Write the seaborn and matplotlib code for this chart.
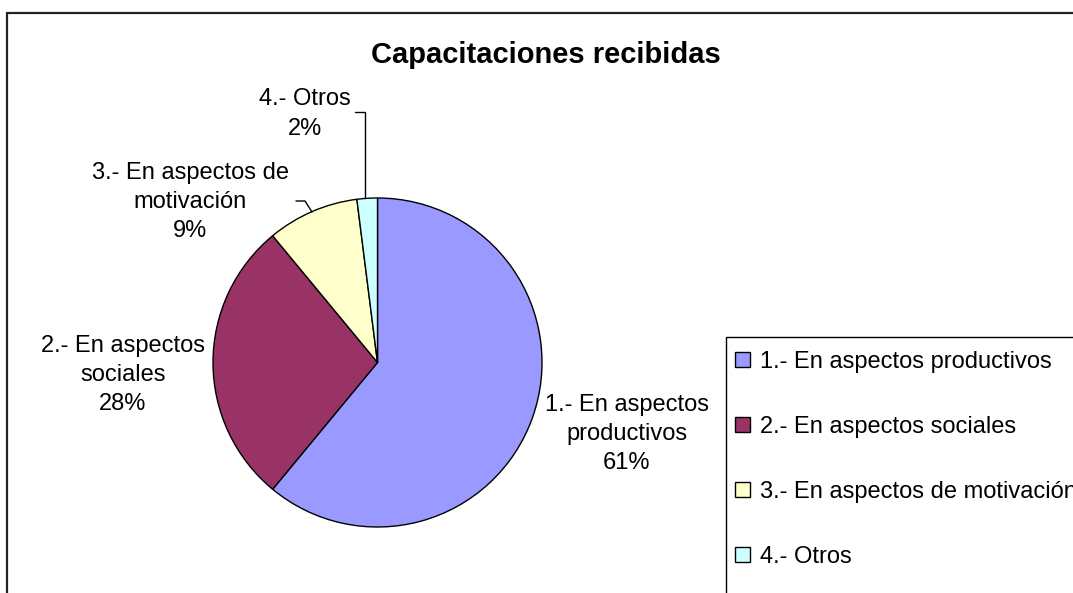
import numpy as np
import matplotlib
matplotlib.use("Agg")
import matplotlib.pyplot as plt
import seaborn as sns
from matplotlib.patches import Rectangle

W, H = 1073, 593

categories = [
    "1.- En aspectos productivos",
    "2.- En aspectos sociales",
    "3.- En aspectos de motivación",
    "4.- Otros",
]
pie_labels = [
    "1.- En aspectos\nproductivos",
    "2.- En aspectos\nsociales",
    "3.- En aspectos de\nmotivación",
    "4.- Otros",
]
values = [61, 28, 9, 2]
colors = ["#9999FF", "#993366", "#FFFFCC", "#CCFFFF"]

sns.set_theme(style="white")
plt.rcParams["font.family"] = ["Liberation Sans", "DejaVu Sans"]
plt.rcParams["text.color"] = "black"

fig = plt.figure(figsize=(W / 100, H / 100), dpi=100)
fig.patch.set_facecolor("white")
ax = fig.add_axes([0, 0, 1, 1])

# pie drawn in pixel-like data coords (y measured from the bottom)
wedges, _ = ax.pie(
    values,
    colors=colors,
    startangle=90,
    counterclock=False,
    center=(377.5, H - 362.5),
    radius=164.5,
    wedgeprops=dict(edgecolor="black", linewidth=1.0),
)
ax.set_xlim(0, W)
ax.set_ylim(0, H)
ax.set_aspect("equal", adjustable="box")
ax.axis("off")

total = sum(values)
pct = [f"{v / total * 100:.0f}%" for v in values]

# data labels (positions, top-down pixels)
label_pos = [(627, 434), (123, 375), (190, 202), (305, 114)]
for txt, p, (x, y) in zip(pie_labels, pct, label_pos):
    ax.text(x, H - y, f"{txt}\n{p}", ha="center", va="center",
            multialignment="center", fontsize=17, linespacing=1.42,
            color="black")

# leader lines
ax.plot([355, 365, 365], [H - 112, H - 112, H - 198], color="black", lw=1)
ax.plot([296, 305, 312], [H - 201, H - 201, H - 212], color="black", lw=1)

# title
ax.text(546, H - 55, "Capacitaciones recibidas", ha="center", va="center",
        fontsize=21, fontweight="bold", color="black")

# chart area border (runs off the right and bottom edges)
ax.plot([7, 7, W + 5], [-5, H - 13, H - 13], color="#222222", lw=1.6,
        clip_on=False, solid_joinstyle="miter")

# legend box, cut by the image edge
ax.add_patch(Rectangle((726, -10), 400, H - 337 + 10, facecolor="white",
                       edgecolor="black", lw=1.0, clip_on=False))
leg = ax.legend(
    wedges, categories,
    loc="upper left",
    bbox_to_anchor=(735 / W, 1 - 351 / H),
    bbox_transform=fig.transFigure,
    frameon=False,
    fontsize=17,
    handlelength=0.62,
    handleheight=0.62,
    handletextpad=0.45,
    labelspacing=1.82,
    borderpad=0.0,
    borderaxespad=0.0,
)
for h in leg.legend_handles:
    h.set_linewidth(1.0)
    h.set_edgecolor("black")
for t in leg.get_texts():
    t.set_color("black")

fig.savefig("out.png", dpi=100)
